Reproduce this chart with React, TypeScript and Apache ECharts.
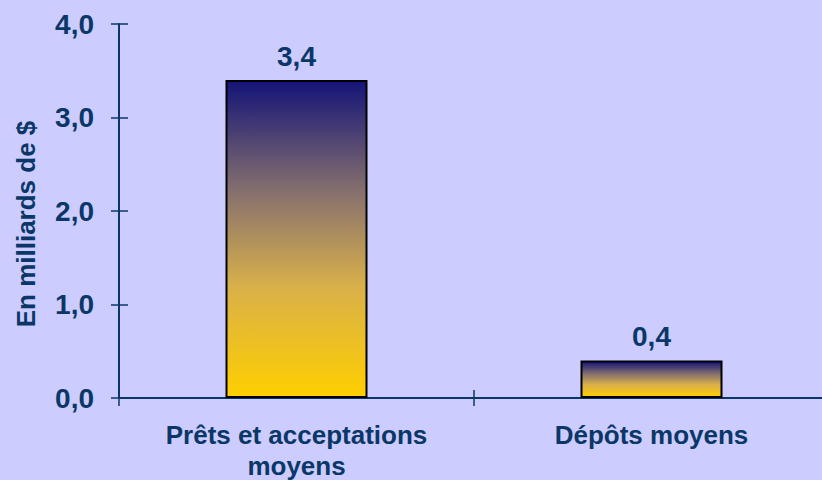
import React, { useEffect, useRef } from "react";
import * as echarts from "echarts";

const categories = ["Prêts et acceptations\nmoyens", "Dépôts moyens"];
const values = [3.4, 0.4];
const valueLabels = ["3,4", "0,4"];
const yTickLabels = ["0,0", "1,0", "2,0", "3,0", "4,0"];
const yAxisTitle = "En milliards de $";

const TEXT = "#0a3768";
const FONT = "Liberation Sans";

export default function App() {
  const ref = useRef<HTMLDivElement>(null);
  useEffect(() => {
    if (!ref.current) return;
    const chart = echarts.init(ref.current, undefined, { renderer: "svg" });
    const gridBox = { left: 119, width: 710, top: 24, bottom: 82, outerBoundsMode: "none" };
    const barColor = new echarts.graphic.LinearGradient(0, 0, 0, 1, [
      { offset: 0, color: "#141478" },
      { offset: 0.35, color: "#86706e" },
      { offset: 0.65, color: "#d9b04a" },
      { offset: 1, color: "#ffcf00" },
    ]);
    chart.setOption({
      animation: false,
      backgroundColor: "#ccccff",
      grid: [{ ...gridBox }, { ...gridBox }],
      xAxis: [
        {
          type: "category",
          data: categories,
          gridIndex: 0,
          axisLine: { lineStyle: { color: TEXT, width: 2 } },
          axisTick: { show: true, length: 8, lineStyle: { color: TEXT, width: 1.5 } },
          axisLabel: {
            color: TEXT,
            fontFamily: FONT,
            fontWeight: "bold",
            fontSize: 26,
            lineHeight: 31,
            margin: 21,
            interval: 0,
          },
        },
        {
          type: "category",
          data: categories,
          gridIndex: 1,
          axisLine: { show: false },
          axisTick: { show: true, inside: true, length: 8, lineStyle: { color: TEXT, width: 1.5 } },
          axisLabel: { show: false },
        },
      ],
      yAxis: [
        {
          type: "value",
          gridIndex: 0,
          min: 0,
          max: 4,
          interval: 1,
          name: yAxisTitle,
          nameLocation: "middle",
          nameGap: 80,
          nameTextStyle: {
            color: TEXT,
            fontFamily: FONT,
            fontWeight: "bold",
            fontSize: 26,
            padding: [0, 26, 0, 0],
          },
          splitLine: { show: false },
          axisLine: { show: true, lineStyle: { color: TEXT, width: 2 } },
          axisTick: { show: true, length: 8, lineStyle: { color: TEXT, width: 1.5 } },
          axisLabel: {
            color: TEXT,
            fontFamily: FONT,
            fontWeight: "bold",
            fontSize: 28,
            margin: 25,
            formatter: (v: number) => yTickLabels[Math.round(v)] ?? "",
          },
        },
        {
          type: "value",
          gridIndex: 1,
          min: 0,
          max: 4,
          interval: 1,
          splitLine: { show: false },
          axisLine: { show: false },
          axisTick: { show: true, inside: true, length: 9, lineStyle: { color: TEXT, width: 1.5 } },
          axisLabel: { show: false },
        },
      ],
      series: [
        {
          type: "bar",
          xAxisIndex: 0,
          yAxisIndex: 0,
          data: values,
          barWidth: "40%",
          itemStyle: { color: barColor, borderColor: "#000000", borderWidth: 2 },
          label: {
            show: true,
            position: "top",
            distance: 10,
            color: TEXT,
            fontFamily: FONT,
            fontWeight: "bold",
            fontSize: 28,
            formatter: (p: any) => valueLabels[p.dataIndex],
          },
        },
      ],
    });
    return () => chart.dispose();
  }, []);
  return (
    <div
      ref={ref}
      style={{ position: "fixed", left: 0, top: 0, width: 822, height: 480 }}
    />
  );
}
